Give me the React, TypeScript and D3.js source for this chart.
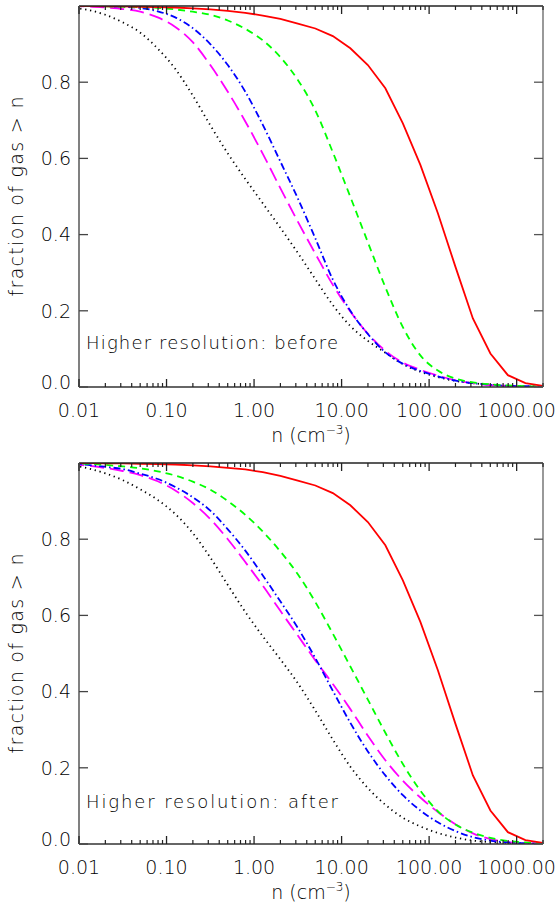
import React from "react";
import * as d3 from "d3";

// log10(n) sampling grid
const logN = [-2.1, -1.9, -1.7, -1.5, -1.3, -1.1, -0.9, -0.7, -0.5, -0.3, -0.1, 0.1, 0.3, 0.5, 0.7, 0.9, 1.1, 1.3, 1.5, 1.7, 1.9, 2.1, 2.3, 2.5, 2.7, 2.9, 3.1, 3.3];

// Panel 1: before
const blackBefore = [0.996, 0.99, 0.977, 0.957, 0.93, 0.888, 0.835, 0.765, 0.687, 0.613, 0.546, 0.482, 0.418, 0.352, 0.283, 0.215, 0.16, 0.121, 0.09, 0.06, 0.04, 0.026, 0.016, 0.01, 0.006, 0.003, 0.002, 0.001];
const magentaBefore = [1.0, 0.999, 0.996, 0.992, 0.985, 0.97, 0.945, 0.905, 0.845, 0.775, 0.697, 0.612, 0.522, 0.434, 0.35, 0.268, 0.198, 0.14, 0.095, 0.064, 0.045, 0.03, 0.018, 0.01, 0.005, 0.003, 0.001, 0.0];
const blueBefore = [1.0, 1.0, 0.999, 0.998, 0.995, 0.986, 0.97, 0.942, 0.9, 0.845, 0.775, 0.688, 0.592, 0.495, 0.39, 0.282, 0.2, 0.139, 0.091, 0.061, 0.042, 0.028, 0.017, 0.01, 0.006, 0.003, 0.002, 0.001];
const greenBefore = [1.0, 1.0, 0.999, 0.998, 0.997, 0.995, 0.991, 0.985, 0.977, 0.962, 0.94, 0.91, 0.866, 0.806, 0.726, 0.616, 0.499, 0.38, 0.262, 0.157, 0.083, 0.043, 0.022, 0.012, 0.007, 0.004, 0.002, 0.001];
const redBefore = [1.0, 1.0, 0.999, 0.999, 0.998, 0.997, 0.996, 0.994, 0.991, 0.987, 0.982, 0.975, 0.966, 0.954, 0.941, 0.921, 0.889, 0.845, 0.784, 0.692, 0.583, 0.456, 0.316, 0.18, 0.088, 0.031, 0.01, 0.003];

// Panel 2: after
const blackAfter = [0.995, 0.986, 0.973, 0.955, 0.931, 0.903, 0.866, 0.816, 0.752, 0.68, 0.609, 0.545, 0.485, 0.422, 0.35, 0.274, 0.203, 0.147, 0.103, 0.069, 0.046, 0.029, 0.017, 0.009, 0.005, 0.003, 0.001, 0.0];
const magentaAfter = [0.998, 0.993, 0.987, 0.979, 0.968, 0.952, 0.928, 0.895, 0.853, 0.8, 0.74, 0.678, 0.612, 0.547, 0.482, 0.42, 0.354, 0.284, 0.22, 0.166, 0.122, 0.084, 0.052, 0.028, 0.013, 0.005, 0.002, 0.001];
const blueAfter = [0.998, 0.995, 0.99, 0.984, 0.972, 0.958, 0.937, 0.91, 0.875, 0.826, 0.77, 0.705, 0.637, 0.567, 0.488, 0.402, 0.318, 0.243, 0.18, 0.128, 0.088, 0.057, 0.034, 0.018, 0.009, 0.004, 0.002, 0.001];
const greenAfter = [1.0, 0.998, 0.995, 0.991, 0.986, 0.978, 0.967, 0.951, 0.93, 0.9, 0.864, 0.82, 0.768, 0.708, 0.635, 0.552, 0.466, 0.379, 0.292, 0.21, 0.14, 0.086, 0.051, 0.03, 0.016, 0.008, 0.004, 0.002];
const redAfter = [1.0, 1.0, 0.999, 0.999, 0.998, 0.997, 0.996, 0.994, 0.991, 0.987, 0.983, 0.976, 0.966, 0.954, 0.941, 0.921, 0.889, 0.845, 0.784, 0.692, 0.583, 0.456, 0.316, 0.18, 0.088, 0.031, 0.01, 0.003];

const xTickValues = [0.01, 0.1, 1, 10, 100, 1000];
const xTickLabels = ["0.01", "0.10", "1.00", "10.00", "100.00", "1000.00"];
const yTickValues = [0.0, 0.2, 0.4, 0.6, 0.8];
const yTickLabels = ["0.0", "0.2", "0.4", "0.6", "0.8"];
const panelLabels = ["Higher resolution: before", "Higher resolution: after"];
const yTitle = "fraction of gas > n";

const seriesStyles = [
  { color: "#000000", dash: "1.3 3.7", smooth: true },
  { color: "#ff00ff", dash: "14 6", smooth: true },
  { color: "#0000ff", dash: "7 3 1.5 3", smooth: true },
  { color: "#00ff00", dash: "7 5", smooth: true },
  { color: "#ff0000", dash: "", smooth: false },
];

const panels = [
  { top: 6, bottom: 387, labelOffset: 38, data: [blackBefore, magentaBefore, blueBefore, greenBefore, redBefore] },
  { top: 463, bottom: 844, labelOffset: 36, data: [blackAfter, magentaAfter, blueAfter, greenAfter, redAfter] },
];

const W = 559;
const H = 909;
const LEFT = 79;
const RIGHT = 543;
const FONT = "'DejaVu Sans', sans-serif";
const FW = 200;
const TEXT = "#000";

function Panel({ p, idx }: { p: any; idx: number }) {
  const x = d3.scaleLog().domain([0.01, 2000]).range([LEFT, RIGHT]);
  const y = d3.scaleLinear().domain([0, 1]).range([p.bottom, p.top]);
  const mkLine = (smooth: boolean) =>
    d3
      .line<number>()
      .x((_, i) => x(Math.pow(10, logN[i])))
      .y((d) => y(d))
      .curve(smooth ? d3.curveMonotoneX : d3.curveLinear);
  const minor: number[] = [];
  for (let e = -2; e <= 3; e++) {
    for (let m = 2; m <= 9; m++) {
      const v = m * Math.pow(10, e);
      if (v <= 2000) minor.push(v);
    }
  }
  const clipId = `clip${idx}`;
  const cy = (p.top + p.bottom) / 2;
  return (
    <g>
      <defs>
        <clipPath id={clipId}>
          <rect x={LEFT} y={p.top} width={RIGHT - LEFT} height={p.bottom - p.top} />
        </clipPath>
      </defs>
      <g clipPath={`url(#${clipId})`}>
        {p.data.map((arr: number[], i: number) => (
          <path
            key={i}
            d={mkLine(seriesStyles[i].smooth)(arr) || ""}
            fill="none"
            stroke={seriesStyles[i].color}
            strokeWidth={1.8}
            strokeDasharray={seriesStyles[i].dash || undefined}
          />
        ))}
      </g>
      {/* frame */}
      <line x1={LEFT} x2={RIGHT} y1={p.bottom} y2={p.bottom} stroke="#333" strokeWidth={1.6} />
      <line x1={LEFT} x2={RIGHT} y1={p.top} y2={p.top} stroke="#222" strokeWidth={1.4} />
      <line x1={LEFT} x2={LEFT} y1={p.top} y2={p.bottom} stroke="#808080" strokeWidth={2} />
      <line x1={RIGHT} x2={RIGHT} y1={p.top} y2={p.bottom} stroke="#808080" strokeWidth={1.6} />
      {/* x ticks */}
      {xTickValues.map((v) => (
        <g key={"xt" + v}>
          <line x1={x(v)} x2={x(v)} y1={p.bottom} y2={p.bottom - 8} stroke="#222" strokeWidth={1.3} />
          <line x1={x(v)} x2={x(v)} y1={p.top} y2={p.top + 8} stroke="#222" strokeWidth={1.3} />
        </g>
      ))}
      {minor.map((v) => (
        <g key={"xm" + v}>
          <line x1={x(v)} x2={x(v)} y1={p.bottom} y2={p.bottom - 4} stroke="#222" strokeWidth={1.2} />
          <line x1={x(v)} x2={x(v)} y1={p.top} y2={p.top + 4} stroke="#222" strokeWidth={1.2} />
        </g>
      ))}
      {xTickValues.map((v, i) => (
        <text key={"xl" + v} x={x(v)} y={p.bottom + 30} textAnchor="middle" fontFamily={FONT} fontWeight={FW} fontSize={19} fill={TEXT}>
          {xTickLabels[i]}
        </text>
      ))}
      {/* y ticks */}
      {yTickValues.map((v) => (
        <g key={"yt" + v}>
          <line x1={LEFT} x2={LEFT + 9} y1={y(v)} y2={y(v)} stroke="#444" strokeWidth={1.3} />
          <line x1={RIGHT} x2={RIGHT - 9} y1={y(v)} y2={y(v)} stroke="#555" strokeWidth={1.3} />
        </g>
      ))}
      {yTickValues.map((v, i) => (
        <text
          key={"yl" + v}
          x={71}
          y={Math.min(y(v), p.bottom - 5)}
          dy="0.36em"
          textAnchor="end"
          fontFamily={FONT}
          fontWeight={FW}
          fontSize={19}
          fill={TEXT}
        >
          {yTickLabels[i]}
        </text>
      ))}
      {/* titles */}
      <text x={(LEFT + RIGHT) / 2} y={p.bottom + 55} textAnchor="middle" fontFamily={FONT} fontWeight={FW} fontSize={19} fill={TEXT}>
        n (cm
        <tspan fontSize={12} dy={-8}>−3</tspan>
        <tspan dy={8}>)</tspan>
      </text>
      <text
        transform={`translate(23,${cy}) rotate(-90)`}
        textAnchor="middle"
        fontFamily={FONT}
        fontWeight={FW}
        fontSize={19}
        fill={TEXT}
        textLength={200}
        lengthAdjust="spacing"
      >
        {yTitle}
      </text>
      <text
        x={86}
        y={p.bottom - p.labelOffset}
        fontFamily={FONT}
        fontWeight={FW}
        fontSize={18}
        fill={TEXT}
        textLength={252}
        lengthAdjust="spacing"
      >
        {panelLabels[idx]}
      </text>
    </g>
  );
}

export default function App() {
  return (
    <svg
      width={W}
      height={H}
      viewBox={`0 0 ${W} ${H}`}
      style={{ position: "absolute", left: 0, top: 0, background: "#fff" }}
    >
      <rect x={0} y={0} width={W} height={H} fill="#fff" />
      {panels.map((p, i) => (
        <Panel key={i} p={p} idx={i} />
      ))}
    </svg>
  );
}
